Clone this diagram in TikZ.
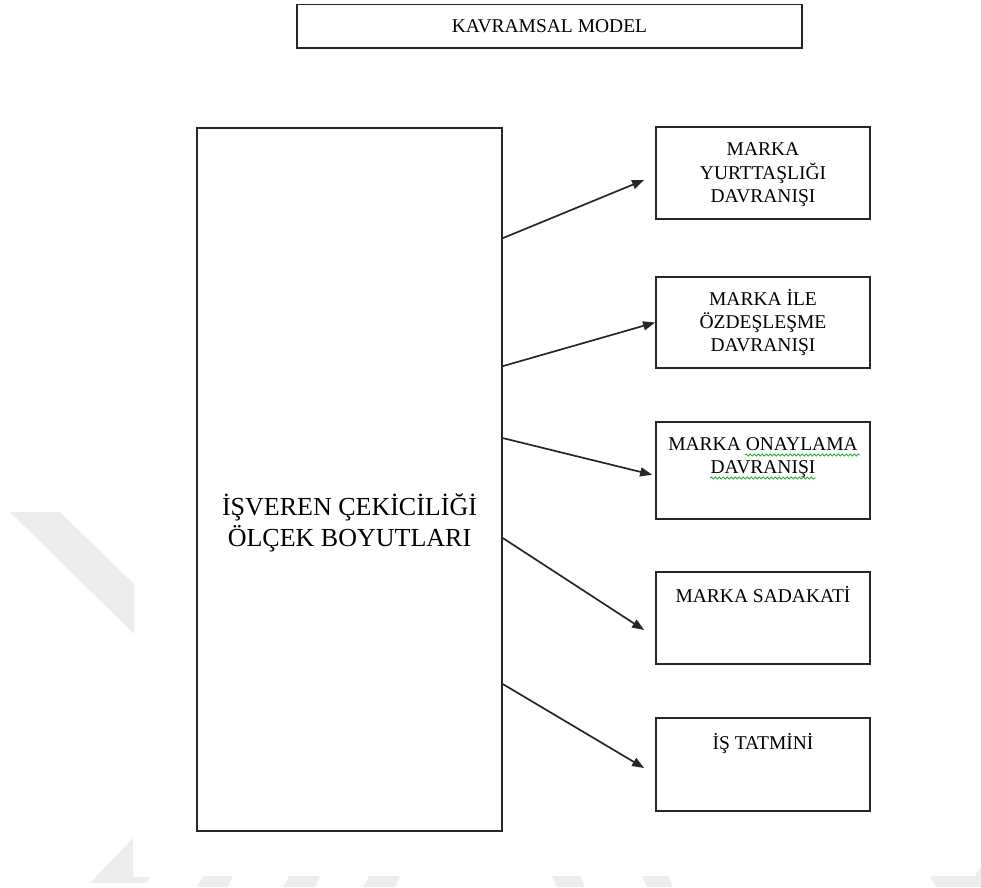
\documentclass[tikz,border=0pt]{standalone}
\usepackage{fontspec}
\setmainfont{Liberation Serif}
\usepackage{xcolor}
\usetikzlibrary{positioning,arrows.meta,decorations.pathmorphing}

\definecolor{wmgray}{gray}{0.93}
\definecolor{spellgreen}{RGB}{40,170,40}

\tikzset{
  kutu/.style={draw=black!85, line width=1.8pt, minimum width=214pt, minimum height=92pt, inner sep=0pt},
  kutuyazi/.style={anchor=north, inner sep=0pt, align=center, font=\fontsize{19.5}{23}\selectfont},
  ok/.style={-{Triangle[length=12pt,width=9pt]}, line width=1.7pt, black!85},
  dalga/.style={spellgreen, line width=0.8pt, decorate, decoration={snake, amplitude=1.1pt, segment length=4pt}}
}

\begin{document}
\begin{tikzpicture}[x=1pt,y=-1pt]
\useasboundingbox (0,0) rectangle (981,887);

% watermark in the background
\fill[wmgray] (10,512) -- (60,512) -- (134,584) -- (134,634) -- cycle;
\fill[wmgray] (90,883) -- (133,838) -- (133,877) -- (150,877) -- (147,883) -- cycle;
\fill[wmgray] (197,887) -- (203,876) -- (233,876) -- (228,887) -- cycle;
\fill[wmgray] (283,887) -- (289,876) -- (320,876) -- (315,887) -- cycle;
\fill[wmgray] (363,887) -- (369,876) -- (400,876) -- (395,887) -- cycle;
\fill[wmgray] (552,876) -- (580,876) -- (585,887) -- (557,887) -- cycle;
\fill[wmgray] (642,876) -- (668,876) -- (673,887) -- (647,887) -- cycle;
\fill[wmgray] (930,876) -- (975,876) -- (981,866) -- (981,887) -- (936,887) -- cycle;

% title
\node[draw=black!85, line width=1.8pt, minimum width=505pt, minimum height=43.5pt, inner sep=0pt,
      font=\fontsize{19.5}{23}\selectfont] (baslik) at (549.5,26.25) {KAVRAMSAL MODEL};

% left box
\node[draw=black!85, line width=1.8pt, minimum width=305pt, minimum height=703pt, inner sep=0pt] (isveren) at (349.5,479.5) {};
\node[anchor=north, inner sep=0pt, align=center, font=\fontsize{26}{30}\selectfont,
      below=366pt of isveren.north] (isverenyazi) {\strut İŞVEREN ÇEKİCİLİĞİ\\ÖLÇEK BOYUTLARI};

% right boxes
\node[kutu] (yurt) at (763,173) {};
\node[kutu, minimum height=91pt] (ozd) at (763,322.5) {};
\node[kutu, minimum height=97pt] (onay) at (763,470.75) {};
\node[kutu] (sadakat) at (763,618) {};
\node[kutu, minimum height=93pt] (tatmin) at (763,764.5) {};

\node[kutuyazi, below=13pt of yurt.north] (yurtyazi) {\strut MARKA\\YURTTAŞLIĞI\\DAVRANIŞI};
\node[kutuyazi, below=13pt of ozd.north] (ozdyazi) {\strut MARKA İLE\\ÖZDEŞLEŞME\\DAVRANIŞI};
\node[kutuyazi, below=13pt of onay.north] (onayyazi) {\strut MARKA ONAYLAMA\\DAVRANIŞI};
\node[kutuyazi, below=15pt of sadakat.north] (sadakatyazi) {\strut MARKA SADAKATİ};
\node[kutuyazi, below=16pt of tatmin.north] (tatminyazi) {\strut İŞ TATMİNİ};

% green underlines
\draw[dalga] (745,455) -- (860,455);
\draw[dalga] (710,478) -- (816,478);

% arrows
\coordinate (s1) at ([yshift=-111pt]isveren.north east);
\coordinate (s2) at ([yshift=-239pt]isveren.north east);
\coordinate (s3) at ([yshift=-311pt]isveren.north east);
\coordinate (s4) at ([yshift=-411pt]isveren.north east);
\coordinate (s5) at ([yshift=-557pt]isveren.north east);
\coordinate (e1) at ([shift={(-11pt,-7pt)}]yurt.west);
\coordinate (e3) at ([shift={(-3pt,-4pt)}]onay.west);
\coordinate (e4) at ([shift={(-11pt,-12pt)}]sadakat.west);
\coordinate (e5) at ([shift={(-11pt,-3.5pt)}]tatmin.west);
\draw[ok] (s1) -- (e1);
\draw[ok] (s2) -- (ozd.west);
\draw[ok] (s3) -- (e3);
\draw[ok] (s4) -- (e4);
\draw[ok] (s5) -- (e5);
\end{tikzpicture}
\end{document}
